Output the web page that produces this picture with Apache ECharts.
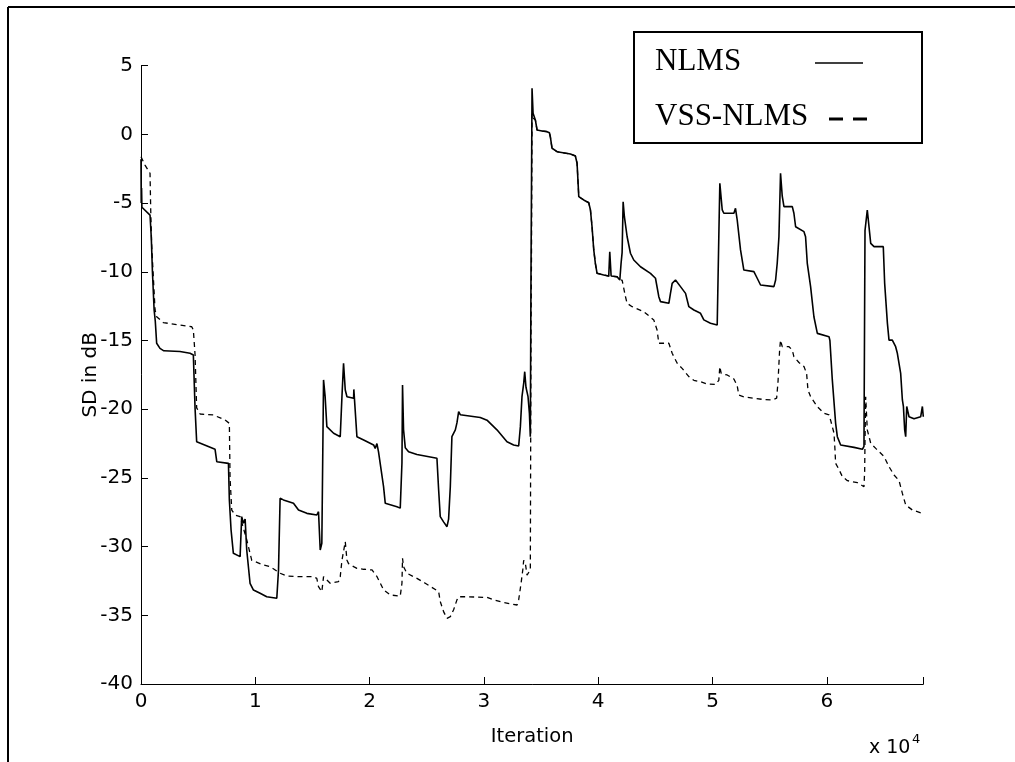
<!DOCTYPE html>
<html>
<head>
<meta charset="utf-8">
<script src="https://cdn.jsdelivr.net/npm/echarts@6/dist/echarts.min.js"></script>
<style>
html,body{margin:0;padding:0;background:#fff;}
#chart{width:1015px;height:762px;}
</style>
</head>
<body>
<div id="chart"></div>
<script>
// ---- data (iteration, SD in dB) ----
const xTickLabels = ['0','1','2','3','4','5','6'];
const yTicks = [-40,-35,-30,-25,-20,-15,-10,-5,0,5];
const seriesNames = ['NLMS','VSS-NLMS'];

const nlmsIter = [0,20,50,80,200,790,900,1000,1150,1250,1370,1660,2000,3410,4290,4580,4730,4870,5020,6480,6630,7650,7730,7880,8080,8670,8810,8960,9110,9250,9540,9840,10420,11000,11880,12030,12170,12460,13340,13780,14510,15380,15530,15680,15820,15970,16110,16260,16850,17430,17580,17720,17870,18020,18600,18620,18890,19480,20350,20490,20640,20780,21220,21370,22390,22680,22830,22880,22970,23120,23410,24140,25890,26040,26180,26470,26770,26910,27060,27200,27500,27640,27790,27930,29680,30270,31140,32020,32600,33040,33190,33330,33480,33570,33680,33860,33980,34060,34120,34210,34300,34500,34650,35080,35520,35730,35810,35960,36400,37570,38000,38150,38300,38730,39170,39320,39460,39610,39750,39900,40480,40920,41010,41130,41650,41890,42000,42090,42180,42290,42530,42820,43110,43700,44570,45010,45300,45450,46180,46320,46470,46760,47200,47640,47930,48370,48950,49240,49820,50410,50550,50640,50850,50990,51870,52010,52160,52450,52740,53620,53910,54200,55370,55520,55660,55810,55950,56100,56250,56980,57120,57270,58000,58140,58290,58580,58870,59170,60190,60270,60480,60770,60920,61210,62380,63110,63250,63310,63340,63540,63840,64130,64940,65060,65300,65440,65730,66020,66170,66460,66610,66700,66810,66900,66990,67190,67630,68210,68360,68440];
const nlmsSD = [-1.8,-5.0,-3.9,-5.3,-5.4,-5.87,-7.5,-10.0,-12.8,-13.6,-15.2,-15.57,-15.75,-15.8,-15.93,-16.05,-19.94,-22.37,-22.48,-22.92,-23.82,-23.94,-26.61,-28.79,-30.49,-30.73,-27.82,-28.3,-28.0,-30.25,-32.67,-33.16,-33.4,-33.65,-33.76,-31.7,-26.48,-26.6,-26.85,-27.34,-27.58,-27.7,-27.46,-30.25,-29.76,-17.87,-19.09,-21.27,-21.75,-22.0,-19.09,-16.66,-18.6,-19.09,-19.2,-18.56,-22.0,-22.24,-22.6,-22.85,-22.5,-23.1,-25.64,-26.85,-27.1,-27.2,-23.9,-18.24,-21.5,-22.8,-23.09,-23.3,-23.57,-25.88,-27.82,-28.2,-28.55,-28.0,-25.64,-22.0,-21.5,-21.0,-20.18,-20.4,-20.6,-20.8,-21.5,-22.37,-22.6,-22.68,-21.27,-19.09,-18.12,-17.27,-18.4,-19.09,-20.3,-22.0,-10.0,3.35,1.54,1.05,0.32,0.25,0.2,0.12,-0.17,-1.01,-1.26,-1.43,-1.57,-2.1,-4.53,-4.77,-4.97,-5.5,-6.72,-8.41,-9.38,-10.11,-10.23,-10.31,-8.54,-10.31,-10.36,-10.6,-9.38,-8.6,-4.9,-5.99,-7.45,-8.65,-9.14,-9.63,-10.11,-10.47,-11.81,-12.17,-12.29,-11.57,-10.84,-10.6,-11.08,-11.57,-12.54,-12.78,-13.02,-13.5,-13.75,-13.87,-7.45,-3.56,-5.5,-5.74,-5.74,-5.38,-6.23,-8.41,-9.87,-9.99,-10.47,-10.96,-11.08,-10.6,-9.38,-7.45,-2.83,-4.5,-5.26,-5.26,-5.74,-6.72,-7.08,-7.45,-9.38,-11.08,-13.27,-14.48,-14.72,-15.0,-17.87,-21.03,-22.0,-22.6,-22.78,-22.92,-22.7,-12.0,-7.0,-5.5,-7.93,-8.17,-8.17,-10.84,-13.75,-14.97,-14.97,-15.45,-15.93,-17.39,-19.33,-19.8,-21.5,-22.0,-19.8,-20.55,-20.7,-20.55,-19.8,-20.55];

const vssIter = [0,350,790,850,930,1230,1370,1960,4440,4580,4730,4870,5170,6330,7360,7730,7790,7940,8230,8670,9250,9690,10710,11300,12170,12760,13920,15090,15380,15530,15820,15970,16260,16550,17280,17430,17580,17870,18020,18160,18600,18890,19480,20210,20650,21230,21810,22680,22830,22880,22970,23260,24140,24870,26040,26180,26470,26770,27060,27350,27640,27790,28520,30270,30860,31730,32900,33040,33250,33400,33480,33630,33770,33920,34060,34120,34160,34210,34300,34500,34650,35080,35520,35730,35810,35960,36400,37570,38000,38150,38300,38730,39170,39320,39460,39610,39750,39900,40480,40920,41130,41650,41890,42090,42380,42530,42970,43990,44860,45150,45300,45450,46180,46320,46470,46910,47340,47930,48370,48950,49530,50260,50550,50640,50760,51280,51870,52160,52300,52740,53620,54500,55230,55610,55730,55870,55950,56100,56690,56980,57120,57560,58000,58230,58350,58580,59170,59750,60190,60330,60630,60710,60770,61070,61360,61800,62680,63250,63310,63340,63400,63540,63840,64280,65010,65440,65880,66320,66610,66900,67490,68360,68440];
const vssSD = [-1.62,-2.23,-2.83,-5.5,-8.0,-12.78,-13.27,-13.7,-14.0,-14.23,-16.05,-19.9,-20.35,-20.42,-20.79,-21.03,-25.0,-27.34,-27.7,-27.82,-29.5,-31.0,-31.34,-31.46,-31.94,-32.14,-32.19,-32.19,-32.31,-32.92,-33.28,-32.19,-32.43,-32.67,-32.55,-32.19,-31.0,-29.64,-31.0,-31.24,-31.46,-31.58,-31.65,-31.7,-32.19,-33.16,-33.52,-33.6,-32.67,-30.85,-31.46,-31.94,-32.31,-32.67,-33.28,-34.0,-34.73,-35.22,-35.1,-34.6,-33.88,-33.65,-33.65,-33.7,-33.88,-34.07,-34.25,-33.88,-32.67,-31.7,-31.0,-31.24,-32.07,-32.07,-31.7,-14.0,-9.4,1.5,1.2,1.05,0.32,0.25,0.2,0.12,-0.17,-1.01,-1.26,-1.43,-1.57,-2.1,-4.53,-4.77,-4.97,-5.5,-6.72,-8.41,-9.38,-10.11,-10.23,-10.31,-10.31,-10.36,-10.6,-10.6,-11.8,-12.3,-12.54,-12.9,-13.5,-14.24,-15.2,-15.33,-15.2,-15.1,-15.93,-16.66,-17.03,-17.63,-17.9,-18.0,-18.17,-18.2,-17.9,-16.9,-17.4,-17.51,-17.8,-18.3,-18.97,-19.1,-19.2,-19.3,-19.33,-19.2,-18.0,-15.69,-14.97,-15.45,-15.45,-15.7,-16.18,-16.6,-16.9,-17.39,-18.6,-19.09,-19.82,-20.3,-20.42,-20.8,-21.75,-22.9,-23.94,-24.4,-24.91,-25.2,-25.35,-25.64,-24.5,-22.3,-19.09,-21.5,-22.48,-22.85,-23.45,-24.18,-24.79,-25.2,-26.13,-26.97,-27.34,-27.58,-27.5];

const xMax = 68440;
const pair = (xs, ys) => xs.map((x, i) => [x, ys[i]]);

const chart = echarts.init(document.getElementById('chart'), null, {renderer: 'canvas'});
const sansFont = 'DejaVu Sans, Verdana, sans-serif';
const tickFont = {fontFamily: sansFont, fontSize: 20, color: '#000'};
const legendFont = 'Liberation Serif, Times New Roman, serif';

chart.setOption({
  animation: false,
  backgroundColor: '#fff',
  grid: {left: 141, top: 65.7, right: 91.7, bottom: 78, containLabel: false},
  xAxis: {
    type: 'value', min: 0, max: xMax, interval: 10000,
    name: 'Iteration', nameLocation: 'middle', nameGap: 43, nameMoveOverlap: false,
    nameTextStyle: {fontFamily: sansFont, fontSize: 19.5, color: '#000'},
    axisLine: {show: true, onZero: false, lineStyle: {color: '#000', width: 1}},
    axisTick: {show: true, inside: true, length: 7, lineStyle: {color: '#000', width: 1}},
    axisLabel: Object.assign({margin: 8, formatter: v => xTickLabels[Math.round(v / 10000)] ?? ''}, tickFont),
    splitLine: {show: false}
  },
  yAxis: {
    type: 'value', min: yTicks[0], max: yTicks[yTicks.length - 1], interval: 5,
    name: 'SD in dB', nameLocation: 'middle', nameGap: 40, nameMoveOverlap: false,
    nameTextStyle: {fontFamily: sansFont, fontSize: 20, color: '#000'},
    axisLine: {show: true, onZero: false, lineStyle: {color: '#000', width: 1}},
    axisTick: {show: true, inside: true, length: 7, lineStyle: {color: '#000', width: 1}},
    axisLabel: Object.assign({margin: 8}, tickFont),
    splitLine: {show: false}
  },
  series: [
    {name: seriesNames[0], type: 'line', data: pair(nlmsIter, nlmsSD), showSymbol: false, symbol: 'none',
     lineStyle: {color: '#000', width: 1.6, type: 'solid'}, z: 3},
    {name: seriesNames[1], type: 'line', data: pair(vssIter, vssSD), showSymbol: false, symbol: 'none',
     lineStyle: {color: '#000', width: 1.3, type: [5, 4]}, z: 2}
  ],
  graphic: [
    // outer frame (top and left edges)
    {type: 'line', shape: {x1: 8, y1: 7, x2: 1015, y2: 7}, style: {stroke: '#000', lineWidth: 2}},
    {type: 'line', shape: {x1: 8, y1: 7, x2: 8, y2: 762}, style: {stroke: '#000', lineWidth: 2}},
    // legend box
    {type: 'rect', shape: {x: 634, y: 32, width: 288, height: 111}, style: {fill: '#fff', stroke: '#000', lineWidth: 2}, z: 10},
    {type: 'text', x: 655, y: 62, z: 11, style: {text: seriesNames[0], font: '31px ' + legendFont, fill: '#000', verticalAlign: 'middle', align: 'left'}},
    {type: 'text', x: 655, y: 117, z: 11, style: {text: seriesNames[1], font: '31px ' + legendFont, fill: '#000', verticalAlign: 'middle', align: 'left'}},
    {type: 'line', z: 11, shape: {x1: 815, y1: 63, x2: 863, y2: 63}, style: {stroke: '#000', lineWidth: 1.5}},
    {type: 'line', z: 11, shape: {x1: 829, y1: 119, x2: 843, y2: 119}, style: {stroke: '#000', lineWidth: 3}},
    {type: 'line', z: 11, shape: {x1: 853, y1: 119, x2: 867, y2: 119}, style: {stroke: '#000', lineWidth: 3}},
    // x 10^4 multiplier
    {type: 'text', x: 869, y: 748, style: {text: 'x 10', font: '19px ' + sansFont, fill: '#000', verticalAlign: 'middle', align: 'left'}},
    {type: 'text', x: 912, y: 740, style: {text: '4', font: '13px ' + sansFont, fill: '#000', verticalAlign: 'middle', align: 'left'}}
  ]
});
</script>
</body>
</html>
